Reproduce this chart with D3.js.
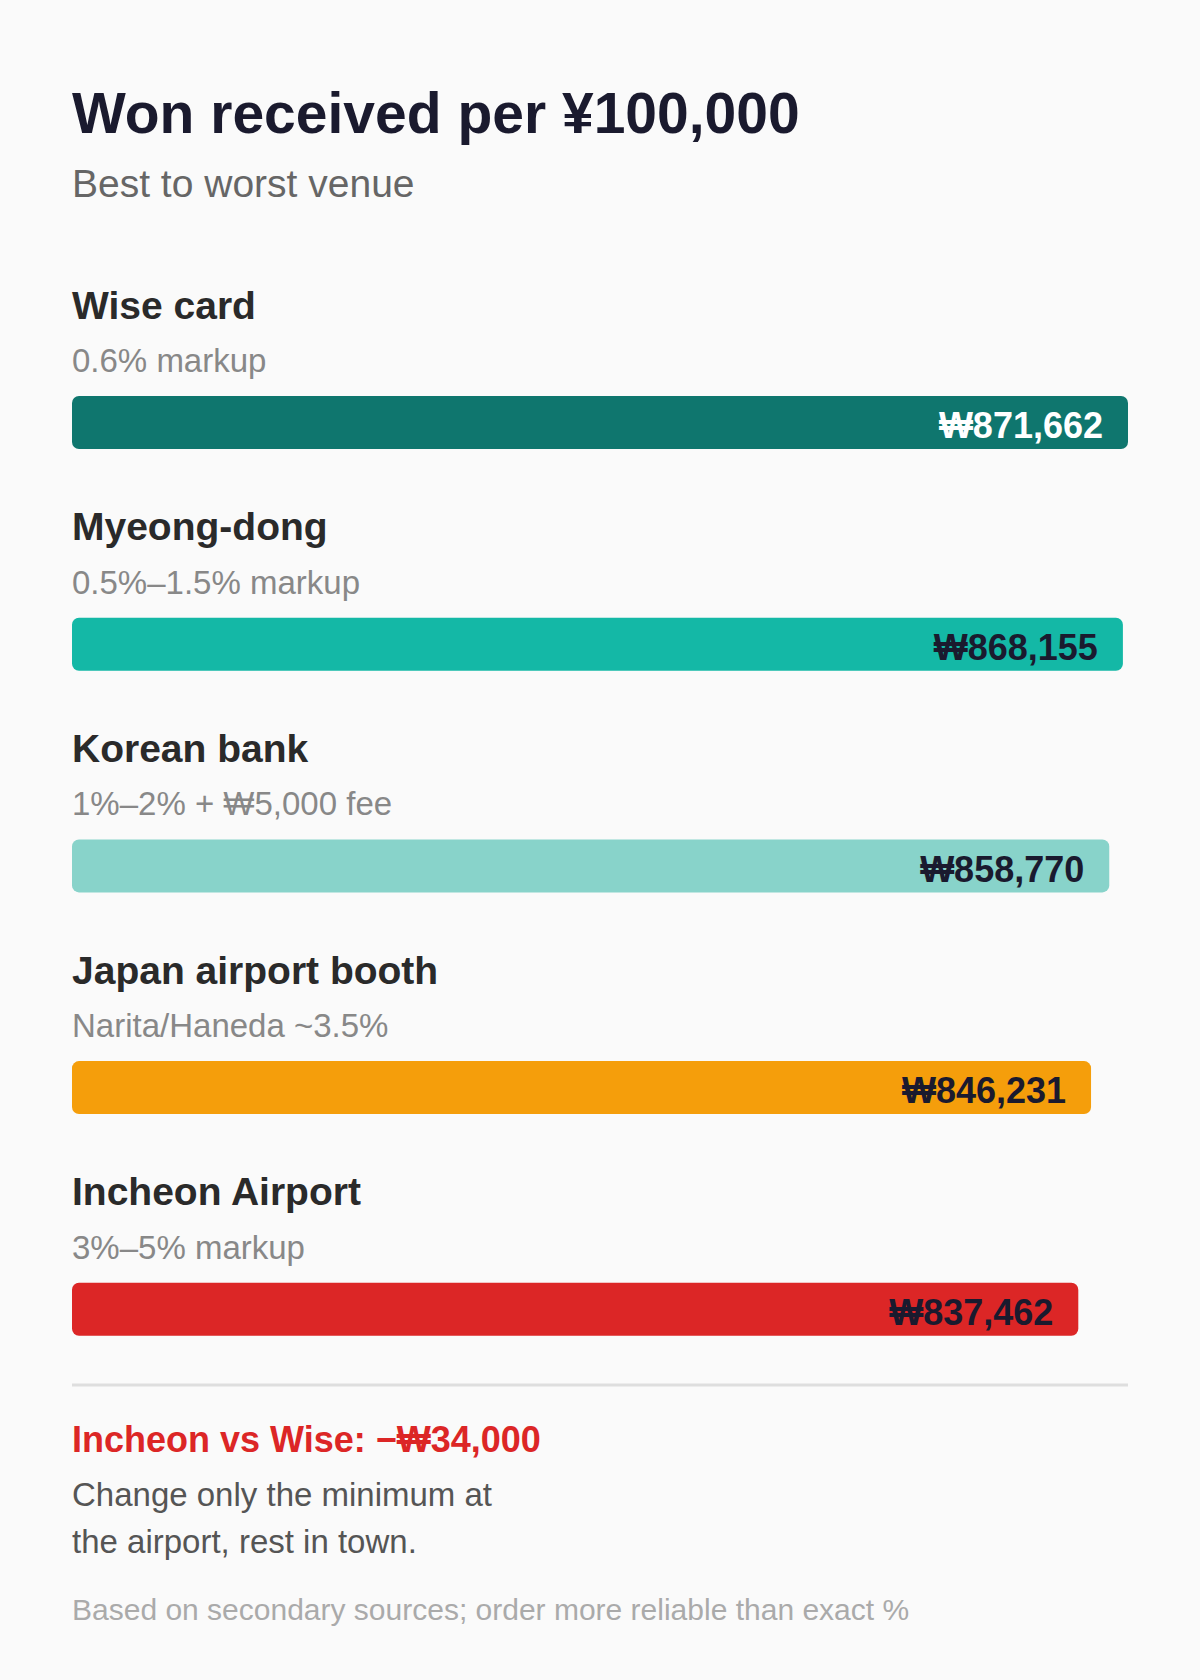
<!DOCTYPE html>
<html lang="en">
<head>
    <title>Won received per ¥100,000</title>
    <meta charset="UTF-8">
    <script src="https://d3js.org/d3.v7.min.js"></script>
    <style>
      body { margin: 0; background: #fafafa; }
      text { font-family: "Liberation Sans", Arial, sans-serif; }
    </style>
</head>
<body>
    <div id="viz">
      <svg width="1200" height="1680"></svg>
    </div>

    <script>
      // venues, best to worst
      let venues = ["Wise card", "Myeong-dong", "Korean bank", "Japan airport booth", "Incheon Airport"]
      let notes = ["0.6% markup", "0.5%–1.5% markup", "1%–2% + ₩5,000 fee", "Narita/Haneda ~3.5%", "3%–5% markup"]
      let wonReceived = [871662, 868155, 858770, 846231, 837462]

      let rows = venues.map((v, i) => ({venue: v, note: notes[i], won: wonReceived[i]}))

      let svg = d3.select("svg")
      svg.append("rect").attr("width", 1200).attr("height", 1680).attr("fill", "#fafafa")

      let left = 72, barW = 1056, barH = 53

      // bars start from a cut baseline so the small gaps stay visible
      let xScale = d3.scaleLinear().domain([145000, d3.max(wonReceived)]).range([0, barW])
      let yScale = d3.scaleBand().domain(venues).range([282, 282 + 221.7 * venues.length])
      let color = d3.scaleOrdinal().domain(venues)
        .range(["#0f766e", "#14b8a6", "#88d3ca", "#f59e0b", "#dc2626"])

      // heading
      svg.append("text").attr("x", left).attr("y", 133)
        .attr("font-size", 57).attr("font-weight", 700).attr("fill", "#1a1a2e")
        .text("Won received per ¥100,000")
      svg.append("text").attr("x", left).attr("y", 197)
        .attr("font-size", 39).attr("fill", "#666")
        .text("Best to worst venue")

      let row = svg.selectAll("g.row").data(rows).enter()
        .append("g").attr("class", "row")
        .attr("transform", d => `translate(${left},${yScale(d.venue)})`)

      row.append("text").attr("y", 36.5)
        .attr("font-size", 39).attr("font-weight", 700).attr("fill", "#2a2a2a")
        .text(d => d.venue)

      row.append("text").attr("y", 90)
        .attr("font-size", 33).attr("fill", "#888")
        .text(d => d.note)

      row.append("rect").attr("y", 114)
        .attr("width", d => xScale(d.won)).attr("height", barH)
        .attr("rx", 7).attr("fill", d => color(d.venue))

      row.append("text")
        .attr("x", d => xScale(d.won) - 25).attr("y", 114 + 42.3)
        .attr("text-anchor", "end")
        .attr("font-size", 36).attr("font-weight", 700)
        .attr("fill", (d, i) => i == 0 ? "#fff" : "#1a1a2e")
        .text(d => "₩" + d3.format(",")(d.won))

      // footer
      svg.append("line").attr("x1", left).attr("x2", left + barW)
        .attr("y1", 1385).attr("y2", 1385)
        .attr("stroke", "#dedede").attr("stroke-width", 3)

      let gap = wonReceived[0] - wonReceived[wonReceived.length - 1]
      svg.append("text").attr("x", left).attr("y", 1452)
        .attr("font-size", 36).attr("font-weight", 700).attr("fill", "#dc2626")
        .text("Incheon vs Wise: −₩" + d3.format(",")(Math.round(gap / 1000) * 1000))

      let body = ["Change only the minimum at", "the airport, rest in town."]
      svg.selectAll("text.body").data(body).enter()
        .append("text").attr("class", "body")
        .attr("x", left).attr("y", (d, i) => 1505.5 + i * 47.8)
        .attr("font-size", 33).attr("fill", "#555")
        .text(d => d)

      svg.append("text").attr("x", left).attr("y", 1620)
        .attr("font-size", 30).attr("fill", "#aaa")
        .text("Based on secondary sources; order more reliable than exact %")
    </script>
</body>
</html>
